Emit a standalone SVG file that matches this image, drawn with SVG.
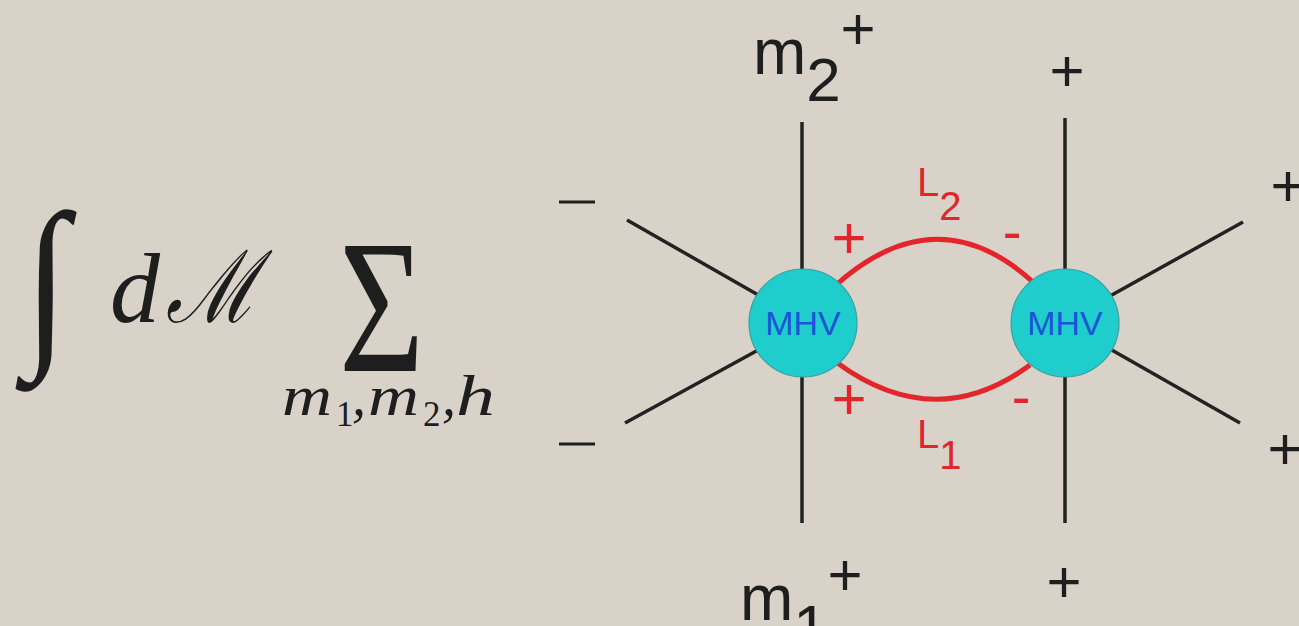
<svg xmlns="http://www.w3.org/2000/svg" width="1299" height="626" viewBox="0 0 1299 626">
<style>
.sans{font-family:"Liberation Sans",Arial,sans-serif}
.blk{fill:#1e1e1e}
.red{fill:#e0262c}
.line{stroke:#222;stroke-width:3.5;stroke-linecap:butt;fill:none}
.loop{stroke:#e2262b;stroke-width:5;fill:none}
.mhv{fill:#1fcdcd;stroke:#3a9f9f;stroke-width:1.2}
.mhvt{font-family:"Liberation Sans",Arial,sans-serif;font-size:34px;fill:#1a55d6;text-anchor:middle}
.math{font-family:"Liberation Serif","Times New Roman",serif;fill:#1e1e1e}
.it{font-style:italic;font-size:56px}
.sub{font-size:35px}
.pl{font-size:60px;text-anchor:middle}
</style>
<rect width="1299" height="626" fill="#d9d2c9"/>
<g id="formula">
<text class="math" x="0" y="0" font-size="120" transform="translate(24,342) scale(1.35,1.55)">∫</text>
<text class="math" x="110" y="322" font-size="100" font-style="italic">d</text>
<text class="math" x="0" y="0" font-size="100" font-style="italic" transform="translate(166,322) scale(0.8,1)">ℳ</text>
<text class="math" x="0" y="0" font-size="190" transform="translate(339,371) scale(0.77,1)">Σ</text>
<text class="math it" x="282" y="415" textLength="50" lengthAdjust="spacingAndGlyphs">m</text>
<text class="math sub" x="336" y="426">1</text>
<text class="math it" x="352" y="415">,</text>
<text class="math it" x="368" y="415" textLength="51" lengthAdjust="spacingAndGlyphs">m</text>
<text class="math sub" x="423" y="426">2</text>
<text class="math it" x="442" y="415">,</text>
<text class="math it" x="456" y="415" font-size="60" textLength="39" lengthAdjust="spacingAndGlyphs">h</text>
</g>
<g id="connectors">
<line class="line" x1="802" y1="122" x2="802" y2="523"/>
<line class="line" x1="1065" y1="118" x2="1065" y2="523"/>
<line class="line" x1="627" y1="220" x2="760" y2="296"/>
<line class="line" x1="625" y1="423" x2="760" y2="349"/>
<line class="line" x1="1110" y1="296" x2="1243" y2="222"/>
<line class="line" x1="1110" y1="349" x2="1240" y2="423"/>
<path id="L2" class="loop" d="M836 285 Q937 195 1033 282"/>
<path id="L1" class="loop" d="M836 362 Q935 435 1030 365"/>
</g>
<g id="node-mhv-left">
<circle class="mhv" cx="803" cy="323" r="54"/>
<text class="mhvt" x="803" y="335">MHV</text>
</g>
<g id="node-mhv-right">
<circle class="mhv" cx="1065" cy="323" r="54"/>
<text class="mhvt" x="1065" y="335">MHV</text>
</g>
<g id="labels" class="sans">
<text class="blk" x="753" y="74" font-size="64">m<tspan dy="27" font-size="62">2</tspan></text>
<text class="blk pl" x="858" y="49">+</text>
<text class="blk pl" x="1067" y="91">+</text>
<text class="blk" x="740" y="620" font-size="64">m<tspan dy="28" font-size="62">1</tspan></text>
<text class="blk pl" x="845" y="595">+</text>
<text class="blk pl" x="1064" y="602">+</text>
<text class="blk pl" x="1288" y="206">+</text>
<text class="blk pl" x="1285" y="469">+</text>
<rect class="blk" x="559" y="200.5" width="36" height="3"/>
<rect class="blk" x="559" y="442.5" width="36" height="3"/>
<text class="red" x="849" y="258" font-size="60" text-anchor="middle">+</text>
<text class="red" x="1012" y="251" font-size="56" text-anchor="middle">-</text>
<text class="red" x="849" y="419" font-size="60" text-anchor="middle">+</text>
<text class="red" x="1021" y="416" font-size="56" text-anchor="middle">-</text>
<text class="red" x="917" y="196" font-size="40">L<tspan dy="24">2</tspan></text>
<text class="red" x="917" y="448" font-size="40">L<tspan dy="21">1</tspan></text>
</g>
</svg>
